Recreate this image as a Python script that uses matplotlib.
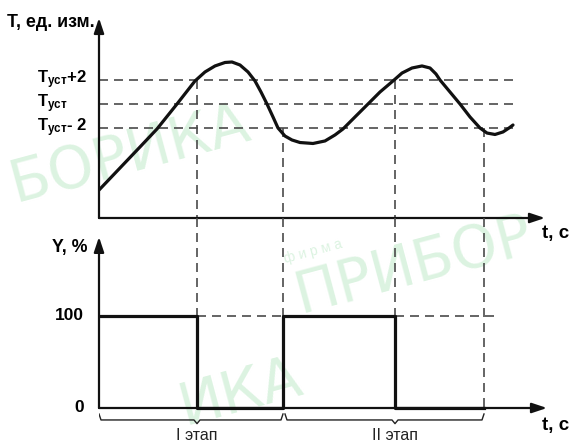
import matplotlib.pyplot as plt

plt.rcParams['font.family'] = ['Liberation Sans', 'DejaVu Sans']
plt.rcParams['mathtext.fontset'] = 'custom'
plt.rcParams['mathtext.rm'] = 'Liberation Sans:bold'

# regulated value T (relative to T_уст)
t_curve = [0, 21, 41, 58, 78, 96, 106, 116, 126, 133, 141, 149, 156, 162, 168, 174,
           179, 186, 193, 201, 214, 226, 236, 244, 256, 269, 281, 294, 303, 313, 323,
           331, 337, 341, 351, 361, 371, 381, 388, 396, 404, 410, 414]
T_curve = [-7.17, -5.33, -3.58, -2.08, 0.0, 1.92, 2.67, 3.17, 3.46, 3.5, 3.25, 2.67,
           1.92, 1.0, 0.0, -1.08, -2.0, -2.67, -3.0, -3.21, -3.29, -3.08, -2.58, -2.08,
           -1.08, 0.0, 1.0, 1.92, 2.58, 3.0, 3.17, 3.0, 2.5, 2.0, 1.0, 0.0, -1.08, -2.0,
           -2.42, -2.54, -2.33, -2.0, -1.75]

levels = [2, 0, -2]
level_labels = [r'$\mathrm{T_{уст}}$+2', r'$\mathrm{T_{уст}}$', r'$\mathrm{T_{уст}}$- 2']

# switching moments and the level at which they happen
switch_t = [98, 184, 296, 385]
switch_T = [2, -2, 2, -2]

# output Y, %
step_t = [0, 98, 184, 296, 385]
step_y = [100, 0, 100, 0, 0]
y_ticks = [0, 100]

stages = ['I этап', 'II этап']
stage_spans = [(0, 184, 98), (186, 385, 296)]

W, H = 576, 445
fig = plt.figure(figsize=(W / 100, H / 100), dpi=100)


def rect(left, top, right, bottom):
    return [left / W, 1 - bottom / H, (right - left) / W, (bottom - top) / H]


# faint watermark
wm = dict(color='#dcf3e1', fontsize=42, rotation=15, zorder=-5, ha='left', va='bottom',
          family=['DejaVu Sans'])
fig.text(0.005, 0.52, 'БОРИКА', **wm)
fig.text(0.5, 0.27, 'ПРИБОР', **wm)
fig.text(0.3, 0.02, 'ИКА', **wm)
fig.text(0.49, 0.41, 'ф и р м а', color='#dcf3e1', fontsize=10, rotation=15, zorder=-5)

ax1 = fig.add_axes(rect(99, 0, 576, 218))
ax2 = fig.add_axes(rect(99, 218, 576, 445))
ax1.set_xlim(0, 477)
ax1.set_ylim(-9.5, 104 / 12)
ax2.set_xlim(0, 477)
ax2.set_ylim(-37 / 0.92, 190 / 0.92)

dash = dict(color='#4a4a4a', lw=1.2, dashes=(5.4, 3.6), zorder=1)
arrow = dict(arrowstyle='-|>,head_length=0.9,head_width=0.3', lw=1.6, color='#111111',
             shrinkA=0, shrinkB=0)

for ax in (ax1, ax2):
    ax.patch.set_alpha(0)
    for s in ax.spines.values():
        s.set_visible(False)
    ax.set_xticks([])
    ax.set_yticks([])

# top chart
for lv, lab in zip(levels, level_labels):
    ax1.plot([0, 415], [lv, lv], **dash)
    ax1.text(-62, lv, lab, ha='left', va='center', fontsize=12, fontweight='bold',
             clip_on=False)
for t, lv in zip(switch_t, switch_T):
    ax1.plot([t, t], [lv, -9.5], **dash)
ax1.plot(t_curve, T_curve, color='#111111', lw=2.3, zorder=3, solid_capstyle='round')
ax1.annotate('', xy=(0, 7.17), xytext=(0, -9.5), arrowprops=arrow, annotation_clip=False)
ax1.annotate('', xy=(446, -9.5), xytext=(0, -9.5), arrowprops=arrow, annotation_clip=False)
ax1.text(-4, 6.83, 'T, ед. изм.', ha='right', va='center', fontsize=12.8, fontweight='bold',
         clip_on=False)
ax1.text(443, -10.75, 't, c', ha='left', va='center', fontsize=13.5, fontweight='bold',
         clip_on=False)

# bottom chart
top2 = 190 / 0.92
for t, stop in zip(switch_t, [100, 100, 100, 0]):
    ax2.plot([t, t], [top2, stop], **dash)
ax2.plot([switch_t[0], switch_t[1]], [100, 100], **dash)
ax2.plot([switch_t[2], 398], [100, 100], **dash)
ax2.step(step_t, step_y, where='post', color='#111111', lw=2.3, zorder=3)
ax2.annotate('', xy=(0, 186), xytext=(0, 0), arrowprops=arrow, annotation_clip=False)
ax2.annotate('', xy=(448, 0), xytext=(0, 0), arrowprops=arrow, annotation_clip=False)
for v in y_ticks:
    ax2.text(-15, v, str(v), ha='right', va='center', fontsize=12.5, fontweight='bold',
             clip_on=False)
ax2.text(-11, 174, 'Y, %', ha='right', va='center', fontsize=12.8, fontweight='bold')
ax2.text(443, -18.5, 't, c', ha='left', va='center', fontsize=13.5, fontweight='bold')

# braces with stage names
for name, (a, b, c) in zip(stages, stage_spans):
    ax2.plot([a, a + 2, c - 3, c, c + 3, b - 2, b],
             [-6.5, -13, -13, -17, -13, -13, -6.5], color='#222222', lw=1.0)
    ax2.text(c, -29.5, name, ha='center', va='center', fontsize=11.5, color='#222222')

fig.savefig('out.png', dpi=100)
